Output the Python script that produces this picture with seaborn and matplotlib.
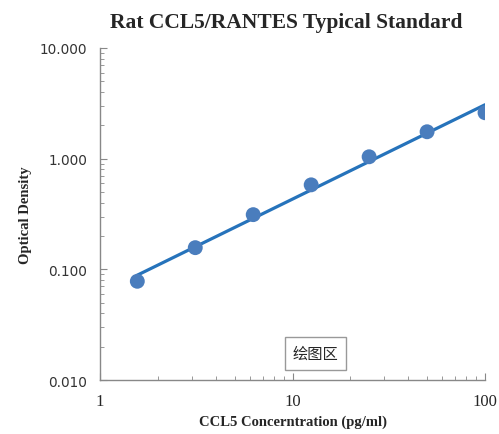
import numpy as np
import pandas as pd
import matplotlib
matplotlib.use("Agg")
import matplotlib.pyplot as plt
import seaborn as sns

# standard curve data
conc = [1.5625, 3.125, 6.25, 12.5, 25, 50, 100]
od = [0.078, 0.157, 0.312, 0.58, 1.04, 1.75, 2.6]

x_ticks = [1, 10, 100]
y_ticks = [0.01, 0.1, 1, 10]
y_tick_labels = ["0.010", "0.100", "1.000", "10.000"]

sns.set_style("ticks")
plt.rcParams['font.family'] = ['DejaVu Sans', 'Noto Sans CJK SC']

df = pd.DataFrame({"conc": conc, "od": od})

# log-log linear fit
k, b = np.polyfit(np.log10(df["conc"]), np.log10(df["od"]), 1)
fit = pd.DataFrame({"conc": [conc[0], conc[-1]]})
fit["od"] = 10 ** (k * np.log10(fit["conc"]) + b)

fig = plt.figure(figsize=(4.99, 4.35), dpi=100)
ax = fig.add_axes([0.2004, 0.1241, 0.7716, 0.7633])

sns.scatterplot(data=df, x="conc", y="od", ax=ax, s=115, color="#4a7dbd",
                edgecolor="none", zorder=3)
sns.lineplot(data=fit, x="conc", y="od", ax=ax, color="#2673bb", lw=2.3, zorder=2)

ax.set_xscale("log")
ax.set_yscale("log")
ax.set_xlim(1, 100)
ax.set_ylim(0.01, 10)

ax.set_xticks(x_ticks)
ax.set_xticklabels([str(t) for t in x_ticks], family="Liberation Serif", fontsize=12)
ax.set_yticks(y_ticks)
ax.set_yticklabels(y_tick_labels, fontsize=9.8, color="#333333")

ax.tick_params(which="both", direction="in", color="#888888")
ax.tick_params(which="major", length=5, pad=9)
ax.tick_params(which="minor", length=3)

for s in ["top", "right"]:
    ax.spines[s].set_visible(False)
for s in ["left", "bottom"]:
    ax.spines[s].set_color("#888888")
    ax.spines[s].set_linewidth(1)

ax.set_xlabel("CCL5 Concerntration (pg/ml)", family="Liberation Serif",
              fontweight="bold", fontsize=10.5, labelpad=4)
ax.set_ylabel("Optical Density", family="Liberation Serif",
              fontweight="bold", fontsize=10.5, labelpad=6)
fig.text(0.574, 0.947, "Rat CCL5/RANTES Typical Standard", family="Liberation Serif",
         fontweight="bold", fontsize=15.5, ha="center", va="center")

ax.text(0.56, 0.08, "绘图区", transform=ax.transAxes, ha="center", va="center",
        family=["Noto Sans CJK SC"], fontsize=11,
        bbox=dict(boxstyle="square,pad=0.5", fc="white", ec="#999999", lw=1))

fig.savefig("out.png", dpi=100)
